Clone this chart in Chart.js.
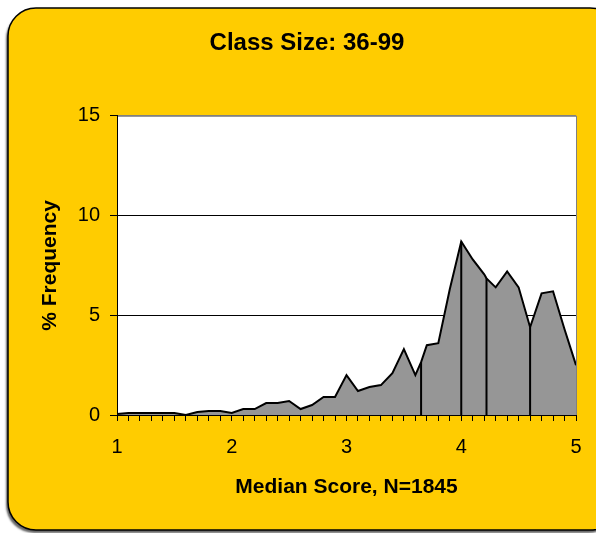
<!DOCTYPE html>
<html>
<head>
<meta charset="utf-8">
<title>Class Size: 36-99</title>
<script src="https://cdn.jsdelivr.net/npm/chart.js@4.4.1/dist/chart.umd.min.js"></script>
<style>
  html, body { margin: 0; padding: 0; background: #fff; }
  canvas { display: block; }
</style>
</head>
<body>
<canvas id="chart-class-size" width="596" height="533"></canvas>
<script>
// median score (x) and % frequency (y)
const scores = [1.0, 1.1, 1.2, 1.3, 1.4, 1.5, 1.6, 1.7, 1.8, 1.9,
                2.0, 2.1, 2.2, 2.3, 2.4, 2.5, 2.6, 2.7, 2.8, 2.9,
                3.0, 3.1, 3.2, 3.3, 3.4, 3.5, 3.6, 3.65, 3.7, 3.8, 3.9,
                4.0, 4.1, 4.2, 4.22, 4.3, 4.4, 4.5, 4.6, 4.7, 4.8, 4.9, 5.0];
const freq = [0.05, 0.1, 0.1, 0.1, 0.1, 0.1, 0.0, 0.15, 0.2, 0.2,
              0.1, 0.3, 0.3, 0.6, 0.6, 0.7, 0.3, 0.5, 0.9, 0.9,
              2.0, 1.2, 1.4, 1.5, 2.1, 3.3, 2.0, 2.65, 3.5, 3.6, 6.3,
              8.7, 7.8, 7.05, 6.85, 6.4, 7.2, 6.4, 4.4, 6.1, 6.2, 4.3, 2.5];
// scores where the original has a vertical drop line
const dropScores = [3.65, 4.0, 4.22, 4.6];
const xLabels = [1, 2, 3, 4, 5];
const yMax = 15;
const yStep = 5;

Chart.defaults.font.family = '"Liberation Sans", Arial, sans-serif';
Chart.defaults.color = '#000';

// yellow rounded panel + white plot area, like the excel chart
const panelPlugin = {
    id: 'panel',
    beforeDraw(chart) {
        const { ctx, chartArea: a } = chart;
        ctx.save();
        ctx.fillStyle = '#fff';
        ctx.fillRect(0, 0, chart.width, chart.height);
        ctx.beginPath();
        ctx.roundRect(8, 8, 610, 522, 28);
        ctx.shadowColor = 'rgba(0,0,0,0.6)';
        ctx.shadowOffsetX = -2;
        ctx.shadowOffsetY = 3;
        ctx.shadowBlur = 2;
        ctx.fillStyle = '#FFCC00';
        ctx.fill();
        ctx.shadowColor = 'transparent';
        ctx.lineWidth = 1.5;
        ctx.strokeStyle = '#000';
        ctx.stroke();
        ctx.fillStyle = '#fff';
        ctx.fillRect(a.left, a.top, a.right - a.left, a.bottom - a.top);
        ctx.strokeStyle = '#808080';
        ctx.lineWidth = 1;
        ctx.strokeRect(a.left + 0.5, a.top + 0.5, a.right - a.left, a.bottom - a.top);
        ctx.restore();
    }
};

const areaData = scores.map((s, i) => ({ x: s, y: freq[i] }));
const dropSets = dropScores.map(s => ({
    data: [{ x: s, y: 0 }, { x: s, y: freq[scores.indexOf(s)] }],
    borderColor: '#000',
    borderWidth: 2,
    pointRadius: 0,
    fill: false,
    order: 0,
}));

new Chart(document.getElementById('chart-class-size'), {
    type: 'line',
    data: {
        datasets: [
            ...dropSets,
            {
                label: '% Frequency',
                data: areaData,
                borderColor: '#000',
                borderWidth: 2,
                backgroundColor: '#969696',
                fill: 'origin',
                pointRadius: 0,
                tension: 0,
                order: 1,
            }
        ]
    },
    options: {
        responsive: false,
        animation: false,
        devicePixelRatio: 1,
        layout: { padding: { left: 38, right: 20, top: 0, bottom: 0 } },
        scales: {
            x: {
                type: 'linear',
                min: 1, max: 5,
                afterFit: s => { s.height = 118; },
                ticks: {
                    stepSize: 0.1,
                    maxTicksLimit: 100,
                    autoSkip: false,
                    maxRotation: 0,
                    padding: 14,
                    font: { size: 20 },
                    callback: v => {
                        const r = Math.round(v * 10) / 10;
                        return xLabels.includes(r) ? String(r) : '';
                    }
                },
                grid: { drawOnChartArea: false, tickLength: 6, tickColor: '#000', color: '#000' },
                border: { color: '#000', width: 1 },
                title: {
                    display: true,
                    text: 'Median Score, N=1845',
                    font: { size: 21, weight: 'bold' },
                    padding: { top: 0, bottom: 33 }
                }
            },
            y: {
                min: 0, max: yMax,
                afterFit: s => { s.width = 79; },
                ticks: { stepSize: yStep, padding: 10, font: { size: 20 } },
                grid: {
                    color: c => c.tick && c.tick.value === yMax ? '#808080' : '#000',
                    tickColor: '#000',
                    tickLength: 7
                },
                border: { color: '#000', width: 1 },
                title: {
                    display: true,
                    text: '% Frequency',
                    font: { size: 21, weight: 'bold' },
                    padding: { top: 0, bottom: 0 }
                }
            }
        },
        plugins: {
            legend: { display: false },
            tooltip: { enabled: false },
            title: {
                display: true,
                text: 'Class Size: 36-99',
                font: { size: 24, weight: 'bold' },
                padding: { top: 29, bottom: 58 }
            }
        }
    },
    plugins: [panelPlugin]
});
</script>
</body>
</html>
